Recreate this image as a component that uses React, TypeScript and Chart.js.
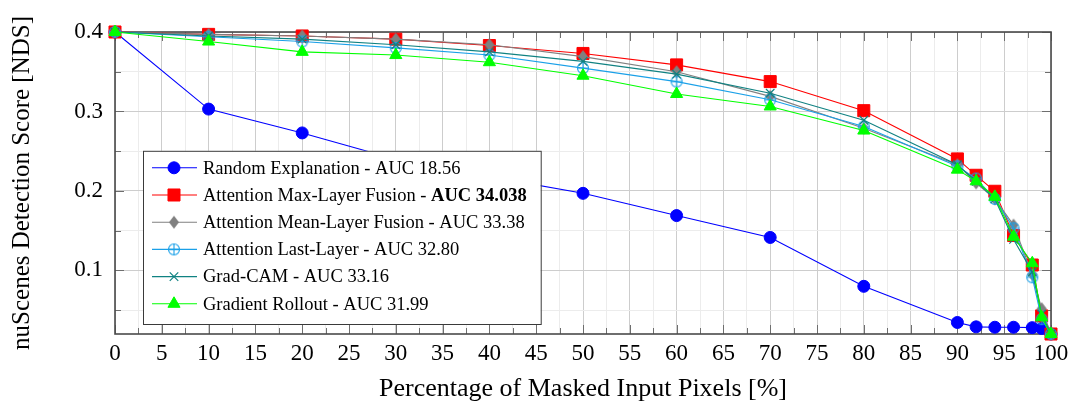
import { useEffect, useRef } from "react";
import { Chart, registerables } from "chart.js";
import { drawPoint } from "chart.js/helpers";

Chart.register(...registerables);

// Percentage of masked input pixels at which NDS was evaluated
const maskedPercent = [0, 10, 20, 30, 40, 50, 60, 70, 80, 90, 92, 94, 96, 98, 99, 100];

// nuScenes Detection Score per explanation method
const randomExplanation = [0.4, 0.303, 0.273, 0.24, 0.218, 0.197, 0.169, 0.1415, 0.08, 0.0345, 0.029, 0.0285, 0.0285, 0.028, 0.027, 0.02];
const attnMaxLayerFusion = [0.4, 0.397, 0.395, 0.391, 0.383, 0.373, 0.3586, 0.3376, 0.301, 0.2403, 0.2197, 0.1996, 0.144, 0.1068, 0.0428, 0.02];
const attnMeanLayerFusion = [0.4, 0.397, 0.395, 0.391, 0.384, 0.369, 0.35, 0.319, 0.279, 0.233, 0.21, 0.19, 0.157, 0.095, 0.052, 0.02];
const attnLastLayer = [0.4, 0.394, 0.388, 0.38, 0.371, 0.3545, 0.3376, 0.3147, 0.281, 0.231, 0.2156, 0.19, 0.153, 0.0914, 0.0387, 0.02];
const gradCam = [0.4, 0.395, 0.391, 0.384, 0.375, 0.363, 0.347, 0.323, 0.289, 0.233, 0.212, 0.19, 0.139, 0.098, 0.045, 0.02];
const gradientRollout = [0.4, 0.388, 0.375, 0.371, 0.362, 0.345, 0.322, 0.3063, 0.276, 0.2268, 0.2122, 0.1926, 0.1424, 0.109, 0.041, 0.02];

const methodNames = [
  "Random Explanation",
  "Attention Max-Layer Fusion",
  "Attention Mean-Layer Fusion",
  "Attention Last-Layer",
  "Grad-CAM",
  "Gradient Rollout",
];
const aucScores = ["18.56", "34.038", "33.38", "32.80", "33.16", "31.99"];
const seriesValues = [randomExplanation, attnMaxLayerFusion, attnMeanLayerFusion, attnLastLayer, gradCam, gradientRollout];
const seriesColors = ["#0000ff", "#ff0000", "#808080", "#1aa0e8", "#108282", "#00ff00"];

// Axis ticks: labelled majors plus unlabelled minors
const xMin = 0;
const xMax = 100;
const xMajorStep = 5;
const xMinorStep = 2.5;
const yMin = 0.02;
const yMax = 0.4;
const yTickValues = [0.05, 0.1, 0.15, 0.2, 0.25, 0.3, 0.35, 0.4];
const yTickLabels: Record<string, string> = { "0.1": "0.1", "0.2": "0.2", "0.3": "0.3", "0.4": "0.4" };

const SERIF = "'Liberation Serif', 'Times New Roman', serif";

const xTickValues: number[] = [];
for (let v = xMin; v <= xMax + 1e-9; v += xMinorStep) xTickValues.push(v);

const isXMajor = (v: number) => Math.abs(v / xMajorStep - Math.round(v / xMajorStep)) < 1e-6;
const yLabelFor = (v: number) => yTickLabels[String(Math.round(v * 100) / 100)] ?? "";
const isYMajor = (v: number) => yLabelFor(v) !== "";

function makeOplus(color: string, r: number) {
  const c = document.createElement("canvas");
  const s = Math.ceil(2 * r + 3);
  c.width = s;
  c.height = s;
  const g = c.getContext("2d")!;
  const m = s / 2;
  g.strokeStyle = color;
  g.lineWidth = 1.1;
  g.beginPath();
  g.arc(m, m, r, 0, Math.PI * 2);
  g.moveTo(m - r, m);
  g.lineTo(m + r, m);
  g.moveTo(m, m - r);
  g.lineTo(m, m + r);
  g.stroke();
  return c;
}

function makeDiamond(color: string, hw: number, hh: number) {
  const c = document.createElement("canvas");
  const w = Math.ceil(2 * hw + 2);
  const h = Math.ceil(2 * hh + 2);
  c.width = w;
  c.height = h;
  const g = c.getContext("2d")!;
  const cx = w / 2;
  const cy = h / 2;
  g.fillStyle = color;
  g.beginPath();
  g.moveTo(cx, cy - hh);
  g.lineTo(cx + hw, cy);
  g.lineTo(cx, cy + hh);
  g.lineTo(cx - hw, cy);
  g.closePath();
  g.fill();
  return c;
}

// Frame around the plot area with inward tick marks on all four sides
const framePlugin = {
  id: "frameTicks",
  beforeDatasetsDraw(chart: any) {
    const { ctx, chartArea: a, scales } = chart;
    const xs = scales.x;
    const ys = scales.y;
    ctx.save();
    ctx.strokeStyle = "#6e6e6e";
    ctx.lineWidth = 1;
    ctx.beginPath();
    for (const v of xTickValues) {
      const px = Math.round(xs.getPixelForValue(v)) + 0.5;
      const len = isXMajor(v) ? 9 : 6;
      ctx.moveTo(px, a.bottom);
      ctx.lineTo(px, a.bottom - len);
      ctx.moveTo(px, a.top);
      ctx.lineTo(px, a.top + len);
    }
    for (const v of yTickValues) {
      const py = Math.round(ys.getPixelForValue(v)) + 0.5;
      const len = isYMajor(v) ? 9 : 6;
      ctx.moveTo(a.left, py);
      ctx.lineTo(a.left + len, py);
      ctx.moveTo(a.right, py);
      ctx.lineTo(a.right - len, py);
    }
    ctx.stroke();
    ctx.strokeStyle = "#4a4a4a";
    ctx.lineWidth = 1.6;
    ctx.strokeRect(a.left, a.top, a.right - a.left, a.bottom - a.top);
    ctx.restore();
  },
};

// Boxed legend in the lower-left corner; the best AUC is set in bold
const boxLegendPlugin = {
  id: "boxLegend",
  afterDatasetsDraw(chart: any) {
    const { ctx, chartArea: a } = chart;
    const datasets = chart.data.datasets;
    const rowH = 27.2;
    const normalFont = `18.5px ${SERIF}`;
    const boldFont = `bold 18.5px ${SERIF}`;
    const best = aucScores.reduce((bi, s, i) => (parseFloat(s) > parseFloat(aucScores[bi]) ? i : bi), 0);

    ctx.save();
    let maxW = 0;
    methodNames.forEach((name, i) => {
      ctx.font = normalFont;
      let w = ctx.measureText(`${name} - `).width;
      ctx.font = i === best ? boldFont : normalFont;
      w += ctx.measureText(`AUC ${aucScores[i]}`).width;
      maxW = Math.max(maxW, w);
    });

    const textOffset = 60;
    const boxH = methodNames.length * rowH + 10;
    const boxW = textOffset + maxW + 14;
    const boxL = a.left + 28;
    const boxT = a.bottom - 10 - boxH;

    ctx.fillStyle = "#ffffff";
    ctx.fillRect(boxL, boxT, boxW, boxH);
    ctx.strokeStyle = "#3a3a3a";
    ctx.lineWidth = 1;
    ctx.strokeRect(boxL + 0.5, boxT + 0.5, boxW, boxH);

    datasets.forEach((ds: any, i: number) => {
      const cy = boxT + 17 + i * rowH;
      ctx.strokeStyle = ds.borderColor;
      ctx.lineWidth = 1.1;
      ctx.beginPath();
      ctx.moveTo(boxL + 9, cy);
      ctx.lineTo(boxL + 54, cy);
      ctx.stroke();

      ctx.fillStyle = ds.pointBackgroundColor;
      ctx.strokeStyle = ds.pointBorderColor;
      ctx.lineWidth = ds.pointBorderWidth;
      drawPoint(ctx, { pointStyle: ds.pointStyle, rotation: 0, radius: ds.pointRadius, borderWidth: ds.pointBorderWidth }, boxL + 31, cy);

      ctx.fillStyle = "#000000";
      ctx.textBaseline = "middle";
      ctx.textAlign = "left";
      ctx.font = normalFont;
      const head = `${methodNames[i]} - `;
      const tx = boxL + textOffset;
      ctx.fillText(head, tx, cy + 1);
      const hw = ctx.measureText(head).width;
      ctx.font = i === best ? boldFont : normalFont;
      ctx.fillText(`AUC ${aucScores[i]}`, tx + hw, cy + 1);
    });
    ctx.restore();
  },
};

export default function App() {
  const canvasRef = useRef<HTMLCanvasElement | null>(null);

  useEffect(() => {
    const canvas = canvasRef.current;
    if (!canvas) return;

    const markers = [
      { pointStyle: "circle" as any, pointRadius: 6, pointBorderWidth: 1, fill: true },
      { pointStyle: "rect" as any, pointRadius: 8.5, pointBorderWidth: 1, fill: true },
      { pointStyle: makeDiamond(seriesColors[2], 5, 6.5) as any, pointRadius: 6, pointBorderWidth: 0, fill: true },
      { pointStyle: makeOplus(seriesColors[3], 5.5) as any, pointRadius: 6, pointBorderWidth: 0, fill: false },
      { pointStyle: "crossRot" as any, pointRadius: 6, pointBorderWidth: 1.2, fill: false },
      { pointStyle: "triangle" as any, pointRadius: 7, pointBorderWidth: 1, fill: true },
    ];

    const datasets = seriesValues.map((values, i) => ({
      label: `${methodNames[i]} - AUC ${aucScores[i]}`,
      data: maskedPercent.map((x, j) => ({ x, y: values[j] })),
      borderColor: seriesColors[i],
      backgroundColor: seriesColors[i],
      borderWidth: 1.1,
      pointStyle: markers[i].pointStyle,
      pointRadius: markers[i].pointRadius,
      pointHoverRadius: markers[i].pointRadius,
      pointBorderWidth: markers[i].pointBorderWidth,
      pointBackgroundColor: markers[i].fill ? seriesColors[i] : "rgba(0,0,0,0)",
      pointBorderColor: seriesColors[i],
      tension: 0,
      clip: false as any,
      order: seriesValues.length - i,
    }));

    const chart = new Chart(canvas, {
      type: "line",
      data: { datasets },
      plugins: [framePlugin, boxLegendPlugin],
      options: {
        responsive: false,
        animation: false,
        devicePixelRatio: 1,
        layout: { padding: { top: 32, right: 24, left: 0, bottom: 0 } },
        plugins: { legend: { display: false }, tooltip: { enabled: false } },
        scales: {
          x: {
            type: "linear",
            min: xMin,
            max: xMax,
            afterFit: (scale: any) => {
              scale.height = 75;
            },
            afterBuildTicks: (scale: any) => {
              scale.ticks = xTickValues.map((value) => ({ value }));
            },
            border: { display: false },
            grid: {
              drawTicks: false,
              lineWidth: 1,
              color: (c: any) => (isXMajor(c.tick.value) ? "#cdcdcd" : "#ececec"),
            },
            ticks: {
              autoSkip: false,
              maxRotation: 0,
              padding: 6,
              color: "#000",
              font: { family: SERIF, size: 23 },
              callback: (v: any) => (isXMajor(Number(v)) ? String(v) : ""),
            },
            title: {
              display: true,
              text: "Percentage of Masked Input Pixels [%]",
              color: "#000",
              font: { family: SERIF, size: 26 },
              padding: { top: 0, bottom: 4 },
            },
          },
          y: {
            type: "linear",
            min: yMin,
            max: yMax,
            afterFit: (scale: any) => {
              scale.width = 115;
            },
            afterBuildTicks: (scale: any) => {
              scale.ticks = yTickValues.map((value) => ({ value }));
            },
            border: { display: false },
            grid: {
              drawTicks: false,
              lineWidth: 1,
              color: (c: any) => (isYMajor(c.tick.value) ? "#cdcdcd" : "#ececec"),
            },
            ticks: {
              autoSkip: false,
              padding: 12,
              color: "#000",
              font: { family: SERIF, size: 23 },
              callback: (v: any) => yLabelFor(Number(v)),
            },
            title: {
              display: true,
              text: "nuScenes Detection Score [NDS]",
              color: "#000",
              font: { family: SERIF, size: 25 },
              padding: { top: 7, bottom: 0 },
            },
          },
        },
      },
    });

    return () => chart.destroy();
  }, []);

  return (
    <div style={{ position: "absolute", left: 0, top: 0, width: 1075, height: 409, background: "#fff" }}>
      <canvas ref={canvasRef} width={1075} height={409} style={{ display: "block" }} />
    </div>
  );
}
